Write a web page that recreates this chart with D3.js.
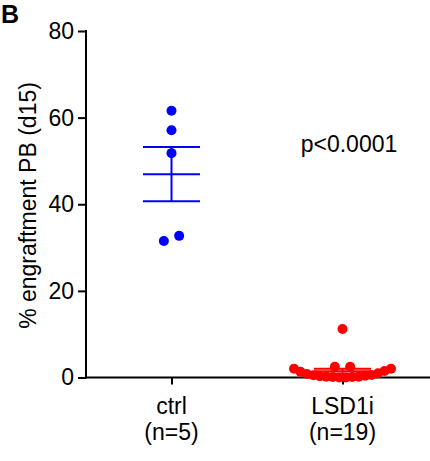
<!DOCTYPE html>
<html><head><meta charset="utf-8">
<script src="https://cdn.jsdelivr.net/npm/d3@7"></script>
<style>body{margin:0;background:#fff}svg{display:block}text{font-family:Arial,"Liberation Sans",sans-serif}</style>
</head><body><svg id="c" width="430" height="461"></svg>
<script>
const categories = ["ctrl", "LSD1i"];
const nLabels = ["(n=5)", "(n=19)"];
const ctrlValues = [61.6, 57.1, 51.8, 32.7, 31.5];
const lsd1iValues = [11.2, 2.5, 2.5, 2.0, 2.0, 1.5, 1.3, 1.0, 0.8, 0.6, 0.5, 0.4, 0.3, 0.2, 0.2, 0.1, 0.1, 0.0, 0.0];
const colors = ["#0000ff", "#ff0000"];
const yTicks = [0, 20, 40, 60, 80];
const yLabel = "% engraftment PB (d15)";
const pText = "p<0.0001";
const panel = "B";

const svg = d3.select("#c");
const FS = 23;
const x = d3.scalePoint().domain(categories).range([86, 428]).padding(0.5);
const y = d3.scaleLinear().domain([0, 80]).range([377.5, 31]);

// panel letter
svg.append("text").attr("x", 1).attr("y", 23).attr("font-size", 25).attr("font-weight", "bold").text(panel);

// y axis
const ya = svg.append("g").attr("transform", "translate(86,0)")
  .call(d3.axisLeft(y).tickValues(yTicks).tickSize(8).tickPadding(4).tickSizeOuter(0));
ya.select(".domain").remove();
ya.append("line").attr("x1", 0).attr("x2", 0).attr("y1", y(80) - 1).attr("y2", y(0) + 1).attr("stroke", "#000").attr("stroke-width", 2);
ya.selectAll(".tick line").attr("stroke-width", 2);
ya.selectAll(".tick text").attr("font-size", FS).attr("fill", "#000").attr("font-family", "Arial, 'Liberation Sans', sans-serif");

// x axis
const xa = svg.append("g").attr("transform", `translate(0,${y(0)})`)
  .call(d3.axisBottom(x).tickSize(7).tickFormat(""));
xa.select(".domain").remove();
xa.append("line").attr("x1", 85).attr("x2", 430).attr("y1", 0).attr("y2", 0).attr("stroke", "#000").attr("stroke-width", 2);
xa.selectAll(".tick line").attr("stroke-width", 2);
categories.forEach((c, i) => {
  const t = svg.append("text").attr("text-anchor", "middle").attr("font-size", FS).attr("fill", "#000");
  t.append("tspan").attr("x", x(c)).attr("y", 413.5).text(c);
  t.append("tspan").attr("x", x(c)).attr("y", 440).text(nLabels[i]);
});

// y label
svg.append("text").attr("transform", "translate(36,205.5) rotate(-90)").attr("text-anchor", "middle")
  .attr("font-size", FS).attr("fill", "#000").text(yLabel);

// p value
svg.append("text").attr("x", 349).attr("y", 151.5).attr("text-anchor", "middle").attr("font-size", FS).attr("fill", "#000").text(pText);

// GraphPad-like scatter: bin points into rows, spread each row symmetrically,
// smallest values in the centre, larger ones outward.
function scatterLayout(vals, binH, maxSpacing, maxWidth) {
  const pts = vals.map(v => ({ v, py: y(v), dx: 0 })).sort((a, b) => a.v - b.v);
  const rows = [];
  pts.forEach(p => {
    const r = rows[rows.length - 1];
    if (r && Math.abs(r[0].py - p.py) < binH) r.push(p); else rows.push([p]);
  });
  rows.forEach(r => {
    const n = r.length;
    if (n === 1) return;
    const s = Math.min(maxSpacing, maxWidth / (n - 1));
    const slots = d3.range(n).map(i => (i - (n - 1) / 2) * s)
      .sort((a, b) => Math.abs(a) - Math.abs(b) || a - b);
    r.forEach((p, i) => p.dx = slots[i]);
  });
  return pts;
}

const groups = [ctrlValues, lsd1iValues];
groups.forEach((vals, i) => {
  const c = categories[i], cx = x(c), col = colors[i];
  const m = d3.mean(vals), sem = d3.deviation(vals) / Math.sqrt(vals.length);
  const g = svg.append("g");
  g.selectAll("circle").data(scatterLayout(vals, 9, 15.3, 97)).join("circle")
    .attr("cx", d => cx + d.dx).attr("cy", d => d.py).attr("r", 5).attr("fill", col);
  const hw = 28.5;
  [m - sem, m, m + sem].forEach(v => g.append("line").attr("x1", cx - hw).attr("x2", cx + hw)
    .attr("y1", y(v)).attr("y2", y(v)).attr("stroke", col).attr("stroke-width", 2));
  g.append("line").attr("x1", cx).attr("x2", cx).attr("y1", y(m - sem)).attr("y2", y(m + sem)).attr("stroke", col).attr("stroke-width", 2);
});
</script></body></html>
